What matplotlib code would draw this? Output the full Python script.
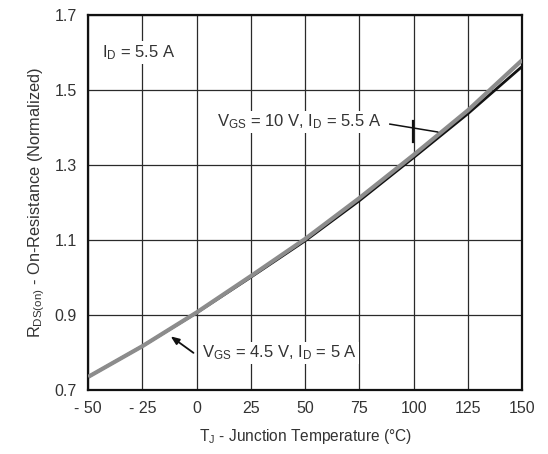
import matplotlib
matplotlib.use("Agg")
import matplotlib.pyplot as plt

plt.rcParams["font.family"] = ["Liberation Sans", "DejaVu Sans"]

# junction temperature (deg C)
temps = [-50, -25, 0, 25, 50, 75, 100, 125, 150]
# normalized on-resistance
r_vgs45 = [0.735, 0.817, 0.907, 1.004, 1.103, 1.212, 1.327, 1.446, 1.580]
r_vgs10 = [0.735, 0.817, 0.906, 1.001, 1.098, 1.205, 1.320, 1.437, 1.563]

x_ticks = [-50, -25, 0, 25, 50, 75, 100, 125, 150]
x_labels = ["- 50", "- 25", "0", "25", "50", "75", "100", "125", "150"]
y_ticks = [0.7, 0.9, 1.1, 1.3, 1.5, 1.7]

txt = "#333333"

fig = plt.figure(figsize=(5.48, 4.54), dpi=100)
ax = fig.add_axes([0.161, 0.141, 0.792, 0.826])

# black curve sits under the grey one, only its lower edge shows
ax.plot(temps, r_vgs10, color="#111111", lw=2.0, zorder=3)
ax.plot(temps, r_vgs45, color="#8c8c8c", lw=3.0, solid_capstyle="butt", zorder=4)

ax.set_xlim(-50, 150)
ax.set_ylim(0.7, 1.7)
ax.set_xticks(x_ticks)
ax.set_xticklabels(x_labels)
ax.set_yticks(y_ticks)
ax.set_yticklabels(["0.7", "0.9", "1.1", "1.3", "1.5", "1.7"])
ax.tick_params(length=0, pad=8, labelsize=11.5, colors=txt)
ax.grid(True, color="#2a2a2a", lw=0.9, zorder=1)
for s in ax.spines.values():
    s.set_linewidth(1.6)
    s.set_color("#111111")

ax.set_xlabel("T$\\mathregular{_J}$ - Junction Temperature (°C)", fontsize=11.2,
              color=txt, labelpad=8)
ax.set_ylabel("R$\\mathregular{_{DS(on)}}$ - On-Resistance (Normalized)", fontsize=11.8,
              color=txt, labelpad=6)

box = dict(facecolor="white", edgecolor="none", pad=1.5)

ax.text(-43.5, 1.60, "I$\\mathregular{_D}$ = 5.5 A", fontsize=12, color=txt,
        va="center", ha="left", bbox=box, zorder=5)

ax.text(9.4, 1.415, "V$\\mathregular{_{GS}}$ = 10 V, I$\\mathregular{_D}$ = 5.5 A",
        fontsize=12, color=txt, va="center", ha="left", bbox=box, zorder=5)
ax.plot([89, 111], [1.409, 1.388], color="#111111", lw=1.1, zorder=5)
ax.plot([99.8, 99.8], [1.361, 1.417], color="#111111", lw=1.6, zorder=5)

ax.text(2.5, 0.799, "V$\\mathregular{_{GS}}$ = 4.5 V, I$\\mathregular{_D}$ = 5 A",
        fontsize=12, color=txt, va="center", ha="left", bbox=box, zorder=5)
ax.annotate("", xy=(-12, 0.843), xytext=(-1.5, 0.799),
            arrowprops=dict(arrowstyle="-|>,head_length=0.5,head_width=0.2",
                            color="#111111", lw=1.3, shrinkA=0, shrinkB=0),
            zorder=5)

fig.savefig("out.png", dpi=100)
plt.close(fig)
